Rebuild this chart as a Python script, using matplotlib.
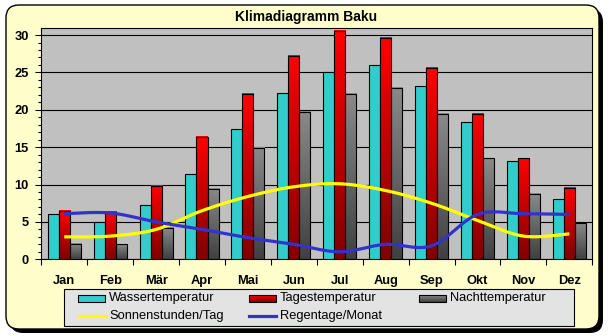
import numpy as np
import matplotlib
matplotlib.use("Agg")
import matplotlib.pyplot as plt
from matplotlib.patches import FancyBboxPatch, Rectangle
from matplotlib.lines import Line2D
from matplotlib.colors import LinearSegmentedColormap

plt.rcParams['font.family'] = ['Liberation Sans', 'DejaVu Sans']

# --- data -------------------------------------------------------------
months = ["Jan", "Feb", "Mär", "Apr", "Mai", "Jun",
          "Jul", "Aug", "Sep", "Okt", "Nov", "Dez"]
wassertemperatur = [6.0, 5.0, 7.2, 11.4, 17.4, 22.2, 25.0, 26.0, 23.2, 18.3, 13.2, 8.0]
tagestemperatur = [6.5, 6.3, 9.8, 16.4, 22.1, 27.2, 30.5, 29.6, 25.6, 19.5, 13.5, 9.6]
nachttemperatur = [2.1, 2.0, 4.2, 9.4, 14.9, 19.7, 22.1, 22.9, 19.4, 13.5, 8.8, 4.8]
sonnenstunden = [3.0, 3.1, 4.0, 6.5, 8.4, 9.7, 10.1, 9.2, 7.5, 5.2, 3.1, 3.4]
regentage = [6.1, 6.2, 5.0, 4.0, 2.9, 2.0, 1.0, 2.0, 1.8, 6.0, 6.1, 6.0]

series_labels = ["Wassertemperatur", "Tagestemperatur", "Nachttemperatur",
                 "Sonnenstunden/Tag", "Regentage/Monat"]

W, H = 609, 336
fig = plt.figure(figsize=(W / 100, H / 100), dpi=100)
fig.patch.set_facecolor("white")

# background layer in pixel coordinates (y downwards)
bg = fig.add_axes([0, 0, 1, 1], zorder=0)
bg.set_xlim(0, W)
bg.set_ylim(H, 0)
bg.axis("off")

# shadow + rounded frame
bg.add_patch(FancyBboxPatch((10, 9), 593, 324, boxstyle="round,pad=0,rounding_size=13",
                            facecolor="black", edgecolor="black", lw=0))
bg.add_patch(FancyBboxPatch((6, 5), 593, 324, boxstyle="round,pad=0,rounding_size=13",
                            facecolor="#FFFFCC", edgecolor="black", lw=1.0))

bg.text(306.5, 16.5, "Klimadiagramm Baku", ha="center", va="center",
        fontsize=10, fontweight="bold", color="black")

# --- main plot area ---------------------------------------------------
left, right, top, bottom = 41.3, 592.3, 28.3, 259.3
ax = fig.add_axes([left / W, 1 - bottom / H, (right - left) / W, (bottom - top) / H], zorder=1)
ax.set_facecolor("#C0C0C0")

x = np.arange(len(months))
bw = 0.24
offsets = [-bw, 0.0, bw]

red_cmap = LinearSegmentedColormap.from_list("redgrad", ["#FF0000", "#800000"])
gray_cmap = LinearSegmentedColormap.from_list("graygrad", ["#8A8A8A", "#404040"])
grad = np.linspace(0, 1, 256).reshape(-1, 1)

# water temperature: solid cyan bars
ax.bar(x + offsets[0], wassertemperatur, width=bw, color="#33CCCC",
       edgecolor="black", linewidth=0.8, zorder=3)


def gradient_bars(xpos, values, cmap):
    for xi, v in zip(xpos, values):
        ax.imshow(grad, cmap=cmap, extent=(xi - bw / 2, xi + bw / 2, 0, v),
                  aspect="auto", origin="upper", zorder=3, interpolation="bilinear")
    ax.bar(xpos, values, width=bw, facecolor="none", edgecolor="black",
           linewidth=0.8, zorder=4)


gradient_bars(x + offsets[1], tagestemperatur, red_cmap)
gradient_bars(x + offsets[2], nachttemperatur, gray_cmap)


def smooth(xs, ys, n=30):
    # Catmull-Rom spline through the points (smoothed line)
    xs = np.asarray(xs, float)
    ys = np.asarray(ys, float)
    px = np.concatenate([[xs[0]], xs, [xs[-1]]])
    py = np.concatenate([[ys[0]], ys, [ys[-1]]])
    ox, oy = [], []
    for i in range(1, len(px) - 2):
        p0, p1, p2, p3 = (np.array([px[j], py[j]]) for j in (i - 1, i, i + 1, i + 2))
        c1 = p1 + (p2 - p0) / 6
        c2 = p2 - (p3 - p1) / 6
        t = np.linspace(0, 1, n)[:, None]
        pts = ((1 - t) ** 3) * p1 + 3 * ((1 - t) ** 2) * t * c1 + 3 * (1 - t) * t ** 2 * c2 + t ** 3 * p2
        ox.extend(pts[:, 0])
        oy.extend(pts[:, 1])
    return np.array(ox), np.array(oy)


sx, sy = smooth(x, sonnenstunden)
ax.plot(sx, sy, color="#FFFF00", lw=2.3, zorder=5, solid_capstyle="butt")
rx, ry = smooth(x, regentage)
ax.plot(rx, ry, color="#3333CC", lw=2.3, zorder=6, solid_capstyle="butt")

ax.set_xlim(-0.5, len(months) - 0.5)
ax.set_ylim(0, 30.9)

ax.set_yticks([0, 5, 10, 15, 20, 25, 30])
ax.set_yticks(np.arange(0, 31, 1), minor=True)
ax.yaxis.grid(True, which="major", color="black", lw=0.8, zorder=1)
ax.set_axisbelow(True)

ax.set_xticks(x)
ax.set_xticklabels(months)
ax.set_xticks(np.arange(-0.5, len(months), 1), minor=True)

ax.tick_params(axis="x", which="major", length=0, pad=11, labelsize=9.3)
ax.tick_params(axis="x", which="minor", length=4, width=0.8, direction="out")
ax.tick_params(axis="y", which="major", length=4, width=0.8, pad=5, labelsize=9.3)
ax.tick_params(axis="y", which="minor", length=2.5, width=0.8)
for lbl in ax.get_xticklabels() + ax.get_yticklabels():
    lbl.set_fontweight("bold")

for s in ax.spines.values():
    s.set_color("black")
    s.set_linewidth(0.8)

# --- legend box -------------------------------------------------------
lg_l, lg_t, lg_r, lg_b = 64.3, 289.3, 574.3, 326
bg.add_patch(Rectangle((lg_l, lg_t), lg_r - lg_l, lg_b - lg_t, facecolor="#E3E3E3",
                       edgecolor="black", lw=0.8, zorder=2))
cols = [78, 249, 419]
rows = [298.5, 315.5]
sw_w, sw_h = 27, 7


def legend_swatch(cx, cy, face=None, cmap=None):
    if cmap is not None:
        bg.imshow(grad, cmap=cmap, extent=(cx, cx + sw_w, cy + sw_h / 2, cy - sw_h / 2),
                  aspect="auto", origin="upper", zorder=3)
        bg.add_patch(Rectangle((cx, cy - sw_h / 2), sw_w, sw_h, facecolor="none",
                               edgecolor="black", lw=0.8, zorder=4))
    else:
        bg.add_patch(Rectangle((cx, cy - sw_h / 2), sw_w, sw_h, facecolor=face,
                               edgecolor="black", lw=0.8, zorder=4))


legend_swatch(cols[0], rows[0], face="#33CCCC")
legend_swatch(cols[1], rows[0], cmap=red_cmap)
legend_swatch(cols[2], rows[0], cmap=gray_cmap)
bg.add_line(Line2D([cols[0], cols[0] + sw_w], [rows[1], rows[1]], color="#FFFF00", lw=2.3, zorder=4))
bg.add_line(Line2D([cols[1], cols[1] + sw_w], [rows[1], rows[1]], color="#3333CC", lw=2.3, zorder=4))

positions = [(cols[0], rows[0]), (cols[1], rows[0]), (cols[2], rows[0]),
             (cols[0], rows[1]), (cols[1], rows[1])]
for (cx, cy), lab in zip(positions, series_labels):
    bg.text(cx + sw_w + 4, cy, lab, ha="left", va="center", fontsize=9.3, zorder=5)

bg.set_xlim(0, W)
bg.set_ylim(H, 0)

fig.savefig("out.png", dpi=100, facecolor="white")
